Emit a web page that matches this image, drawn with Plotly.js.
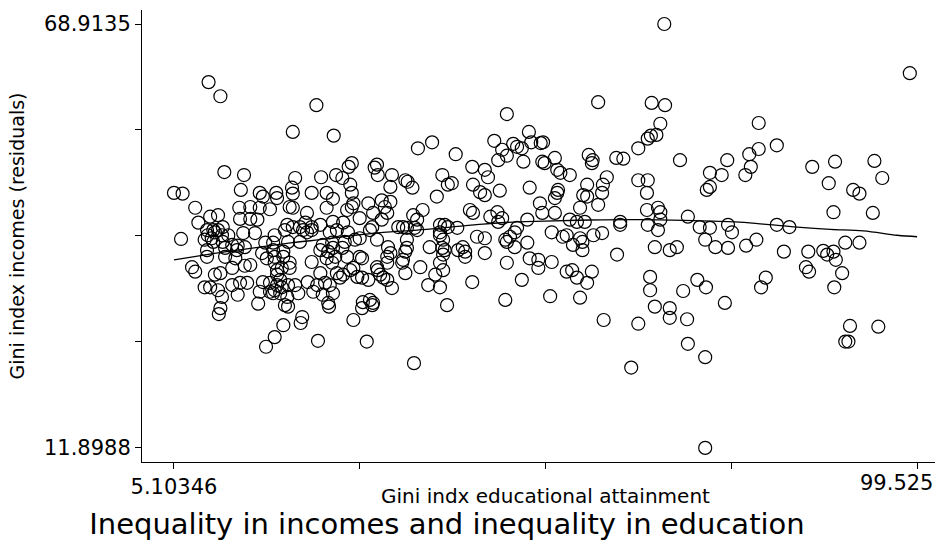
<!DOCTYPE html>
<html>
<head>
<meta charset="utf-8">
<script src="https://cdn.plot.ly/plotly-3.0.1.min.js"></script>
<style>html,body{margin:0;padding:0;background:#fff;}#chart{width:940px;height:545px;}</style>
</head>
<body>
<div id="chart"></div>
<script>
// Gini indx educational attainment (x) and Gini index incomes residuals (y)
const giniEducation = [
9.5,11.0,23.2,20.2,25.4,47.4,50.2,45.8,36.1,37.9,40.9,48.2,46.8,48.7,49.3,50.5,51.7,46.3,47.4,49.5,51.9,30.9,27.7,43.0,
67.4,59.0,65.8,67.5,66.9,66.4,65.7,65.3,64.1,57.8,58.3,61.3,62.2,53.5,52.0,52.2,69.4,75.4,
98.6,79.4,79.4,78.2,81.7,78.4,86.2,89.1,94.1,
11.5,14.0,20.5,23.8,25.7,26.5,27.3,27.5,5.10346,6.2,13.6,16.0,16.4,18.1,18.2,20.1,20.2,22.6,24.5,25.3,27.7,
7.8,13.4,14.8,16.0,17.3,19.8,20.2,22.0,24.5,27.1,27.7,9.7,10.7,13.5,14.8,15.7,8.2,19.5,20.2,21.1,21.8,22.6,23.7,25.3,26.6,
9.3,10.1,10.7,11.3,9.4,11.2,12.0,13.9,15.4,17.9,19.2,21.5,22.0,22.6,24.9,25.8,27.2,
6.0,9.0,10.1,11.3,12.5,13.2,14.1,16.7,17.7,19.6,21.1,24.0,25.2,26.8,
9.3,11.6,13.1,16.3,17.7,19.0,23.7,24.7,25.3,26.5,9.3,11.6,12.9,16.9,17.9,19.0,24.5,25.6,27.1,
17.9,19.8,22.6,25.2,27.5,7.4,7.8,10.3,11.0,12.5,14.1,14.8,18.2,18.8,19.8,23.7,25.8,26.2,26.6,
9.0,9.7,10.7,12.5,13.5,14.4,16.4,17.3,18.2,18.8,19.6,20.5,22.1,23.3,24.3,24.9,
11.2,13.2,16.0,17.3,17.7,18.6,19.5,20.9,22.8,24.0,25.3,15.8,19.2,11.0,24.7,
10.3,9.9,18.2,18.6,17.9,
30.6,31.0,32.8,34.5,34.8,35.4,32.6,39.2,39.9,40.4,44.6,45.0,43.1,44.0,44.6,46.5,50.3,
27.9,29.8,31.5,32.6,31.9,28.7,30.4,31.5,32.2,36.7,35.5,36.0,38.5,42.7,43.1,45.3,46.2,46.8,46.3,51.6,51.9,50.0,
30.3,30.0,33.6,34.2,34.7,35.7,36.0,38.9,39.5,39.9,38.9,41.1,48.7,48.4,47.8,
28.1,28.7,30.9,34.7,38.9,39.3,43.6,44.6,47.2,47.4,50.0,
32.3,34.7,37.6,39.2,39.5,41.2,41.8,42.1,44.6,48.4,
28.7,29.0,32.2,32.6,34.5,34.2,39.3,42.1,50.3,51.4,51.4,47.4,27.9,30.9,31.0,32.2,34.1,36.4,38.9,39.3,38.3,34.5,
28.4,29.0,29.8,31.3,31.7,32.2,32.8,37.4,38.9,43.0,49.3,29.1,30.0,30.4,39.8,47.2,
53.8,54.2,55.4,58.2,73.2,74.7,72.8,73.2,64.1,65.3,65.2,60.1,59.6,59.5,57.6,57.1,57.6,53.9,53.8,53.5,
59.0,56.7,53.5,65.2,66.6,66.9,66.9,70.4,55.4,56.3,57.3,61.8,61.8,65.3,66.6,71.9,73.2,75.5,76.0,
53.1,54.5,55.0,56.7,57.0,58.4,59.5,55.8,57.0,72.6,73.9,75.5,66.2,68.1,69.0,61.4,53.1,
55.0,55.7,56.3,58.2,57.6,65.6,65.6,71.6,72.7,69.8,52.9,56.7,66.2,68.1,75.1,
77.7,95.1,88.3,91.4,92.2,88.9,93.9,81.7,83.3,79.1,77.8,82.6,85.7,87.6,88.9,88.1,89.2,90.4,92.2,85.4,85.8,90.0,80.3,79.7,89.0,
10.8,19.6,19.0,21.4,21.2,17.9,16.8,23.4,24.8,27.9,29.0,30.3,29.6,35.6,
59.7,64.1,68.1,70.3,70.4,72.6,63.2,72.6,91.0,94.6,90.4,90.8
];
const giniIncomeResid = [
61.1,59.2,58.0,54.4,53.9,56.8,54.4,53.2,52.2,53.0,51.4,52.8,52.0,52.4,52.2,53.0,52.9,50.6,51.2,50.4,50.4,50.0,50.2,49.7,
68.9135,58.4,58.3,58.0,55.5,54.0,53.9,53.5,52.2,51.3,50.6,50.9,50.8,50.9,53.0,50.2,50.6,50.6,
62.3,55.6,52.1,51.4,52.6,49.7,49.7,50.4,50.5,
49.0,48.6,48.2,48.3,48.6,48.2,49.7,47.3,46.2,46.1,46.6,46.2,45.7,46.2,45.5,46.9,46.1,46.2,46.2,45.4,46.2,
44.2,44.2,44.3,44.2,44.0,44.3,44.2,43.5,44.2,43.9,44.3,43.0,43.2,42.7,42.7,42.6,42.2,41.9,41.6,41.6,42.2,41.6,41.9,42.3,42.2,
41.2,41.2,41.2,41.6,40.5,40.5,40.5,40.8,40.8,40.5,41.2,41.2,40.9,41.2,40.9,41.2,40.9,
40.0,39.9,39.6,39.6,39.2,39.1,38.9,39.5,39.5,39.6,39.6,39.2,39.5,39.6,
38.5,38.8,38.5,38.1,38.5,38.3,38.5,38.3,38.8,38.8,37.6,37.6,37.4,37.4,37.6,37.6,37.4,37.6,37.6,
36.8,36.8,36.9,36.8,35.8,36.2,35.6,35.2,35.4,36.1,36.4,36.5,35.8,36.1,36.1,35.4,35.4,34.8,35.2,
33.5,33.5,33.1,33.8,34.1,34.1,34.2,34.1,33.8,33.5,33.8,33.8,34.2,33.8,34.1,33.8,
32.2,32.5,32.9,32.9,32.7,32.7,32.2,32.7,32.9,32.5,32.7,31.3,31.1,30.7,31.4,
40.9,40.1,35.2,34.5,33.1,
49.6,48.6,48.6,47.9,47.7,46.9,47.0,48.6,47.3,47.5,49.3,48.3,47.3,46.3,45.9,46.5,46.9,
44.8,44.8,45.2,45.0,44.3,42.8,43.5,42.6,43.5,43.9,43.2,42.6,45.7,43.9,43.5,43.0,43.6,42.8,42.3,44.8,43.5,42.6,
41.6,41.2,41.6,41.6,41.5,41.5,41.2,41.9,41.9,41.6,40.9,41.5,41.5,40.9,40.3,
39.9,40.1,39.9,39.9,40.5,39.9,40.3,40.1,39.9,39.6,39.5,
38.9,38.8,38.9,38.8,38.5,38.5,38.9,38.3,38.1,38.9,
37.6,37.4,37.6,38.1,38.3,37.2,37.9,37.6,37.4,37.2,36.1,36.8,36.1,36.2,35.8,36.8,36.8,36.2,36.8,35.8,35.2,35.4,
34.9,34.8,34.5,35.2,34.8,34.5,33.4,33.8,33.5,34.2,34.5,31.5,31.8,31.4,31.1,31.8,
49.3,48.9,48.6,50.2,48.9,48.6,46.6,47.0,47.9,47.9,46.2,48.3,47.3,46.2,47.3,45.9,45.7,46.6,46.2,45.5,
44.6,44.2,43.5,43.9,44.2,43.6,42.6,43.0,42.6,42.3,42.3,42.3,41.9,41.9,41.2,41.6,41.5,41.9,40.9,
40.9,40.3,40.5,40.1,39.6,40.5,40.8,39.2,38.5,39.9,38.9,38.8,38.9,38.5,38.9,37.9,36.9,
35.6,35.8,34.8,35.6,34.1,34.9,33.1,34.5,33.5,33.0,32.3,32.1,30.9,30.7,31.4,
48.6,48.2,47.5,46.6,46.1,43.6,43.5,41.9,41.6,39.9,39.1,38.3,38.3,38.4,38.3,37.9,37.2,39.5,39.5,36.2,35.6,35.4,34.8,33.5,33.5,
29.9,30.9,28.4,29.5,28.7,26.8,25.5,26.3,30.9,29.1,30.7,31.1,26.2,23.3,
29.1,28.6,29.4,29.2,25.9,24.1,22.7,11.8988,28.3,28.2,26.2,26.2
];
// lowess smoother
const lowessX = [5.10346,7.5,11.8,16.0,20.2,24.5,28.1,31.7,36.0,40.2,44.4,48.7,52.2,58.0,64.3,70.0,76.4,80.0,84.3,88.5,92.7,97.0,99.525];
const lowessY = [37.2,37.6,38.3,38.9,39.5,40.0,40.5,40.9,41.2,41.6,42.0,42.3,42.4,42.55,42.6,42.5,42.3,42.0,41.6,41.3,41.1,40.5,40.3];

const xTickVals = [5.10346, 28.708, 52.314, 75.919, 99.525];
const xTickText = ['5.10346', '', '', '', ''];
const xEndLabel = '99.525';
const yTickVals = [11.8988, 26.152, 40.406, 54.660, 68.9135];
const yTickText = ['11.8988', '', '', '', '68.9135'];
const xTitleText = 'Gini indx educational attainment';

const FONT = 'DejaVu Sans, Liberation Sans, Arial, sans-serif';

const traces = [
  {
    x: giniEducation, y: giniIncomeResid, type: 'scatter', mode: 'markers',
    marker: {symbol: 'circle-open', size: 13, color: '#000', line: {width: 1.2, color: '#000'}},
    hoverinfo: 'skip', showlegend: false
  },
  {
    x: lowessX, y: lowessY, type: 'scatter', mode: 'lines',
    line: {color: '#000', width: 1.3, shape: 'spline'},
    hoverinfo: 'skip', showlegend: false
  }
];

const layout = {
  width: 940, height: 545,
  margin: {l: 142, r: 5, t: 10, b: 83},
  paper_bgcolor: '#fff', plot_bgcolor: '#fff',
  font: {family: FONT, color: '#000'},
  showlegend: false,
  title: {
    text: 'Inequality in incomes and inequality in education',
    x: 0.4755, xanchor: 'center', xref: 'container',
    y: 0.039, yanchor: 'middle', yref: 'container',
    font: {family: FONT, size: 29, color: '#000'}
  },
  xaxis: {
    range: [1.04, 101.8], autorange: false,
    showline: true, linecolor: '#000', linewidth: 1,
    ticks: 'outside', ticklen: 6, tickcolor: '#000', tickwidth: 1,
    tickvals: xTickVals, ticktext: xTickText,
    tickfont: {family: FONT, size: 21, color: '#000'},
    showgrid: false, zeroline: false,
    title: {text: ''}
  },
  yaxis: {
    range: [10.0, 70.8], autorange: false,
    showline: true, linecolor: '#000', linewidth: 1,
    ticks: 'outside', ticklen: 6, tickcolor: '#000', tickwidth: 1,
    tickvals: yTickVals, ticktext: yTickText,
    tickfont: {family: FONT, size: 21, color: '#000'},
    showgrid: false, zeroline: false,
    title: {text: 'Gini index incomes (residuals)', font: {family: FONT, size: 19, color: '#000'}, standoff: 14}
  },
  annotations: [
    {text: xEndLabel, xref: 'paper', yref: 'paper', x: 1.0, y: 0, xanchor: 'right', yanchor: 'top',
     yshift: -7, showarrow: false, font: {family: FONT, size: 21, color: '#000'}},
    {text: xTitleText, xref: 'x', yref: 'paper', x: xTickVals[2], y: 0, xanchor: 'center', yanchor: 'middle',
     yshift: -34, showarrow: false, font: {family: FONT, size: 20, color: '#000'}}
  ]
};

Plotly.newPlot('chart', traces, layout, {staticPlot: true, displayModeBar: false});
</script>
</body>
</html>
